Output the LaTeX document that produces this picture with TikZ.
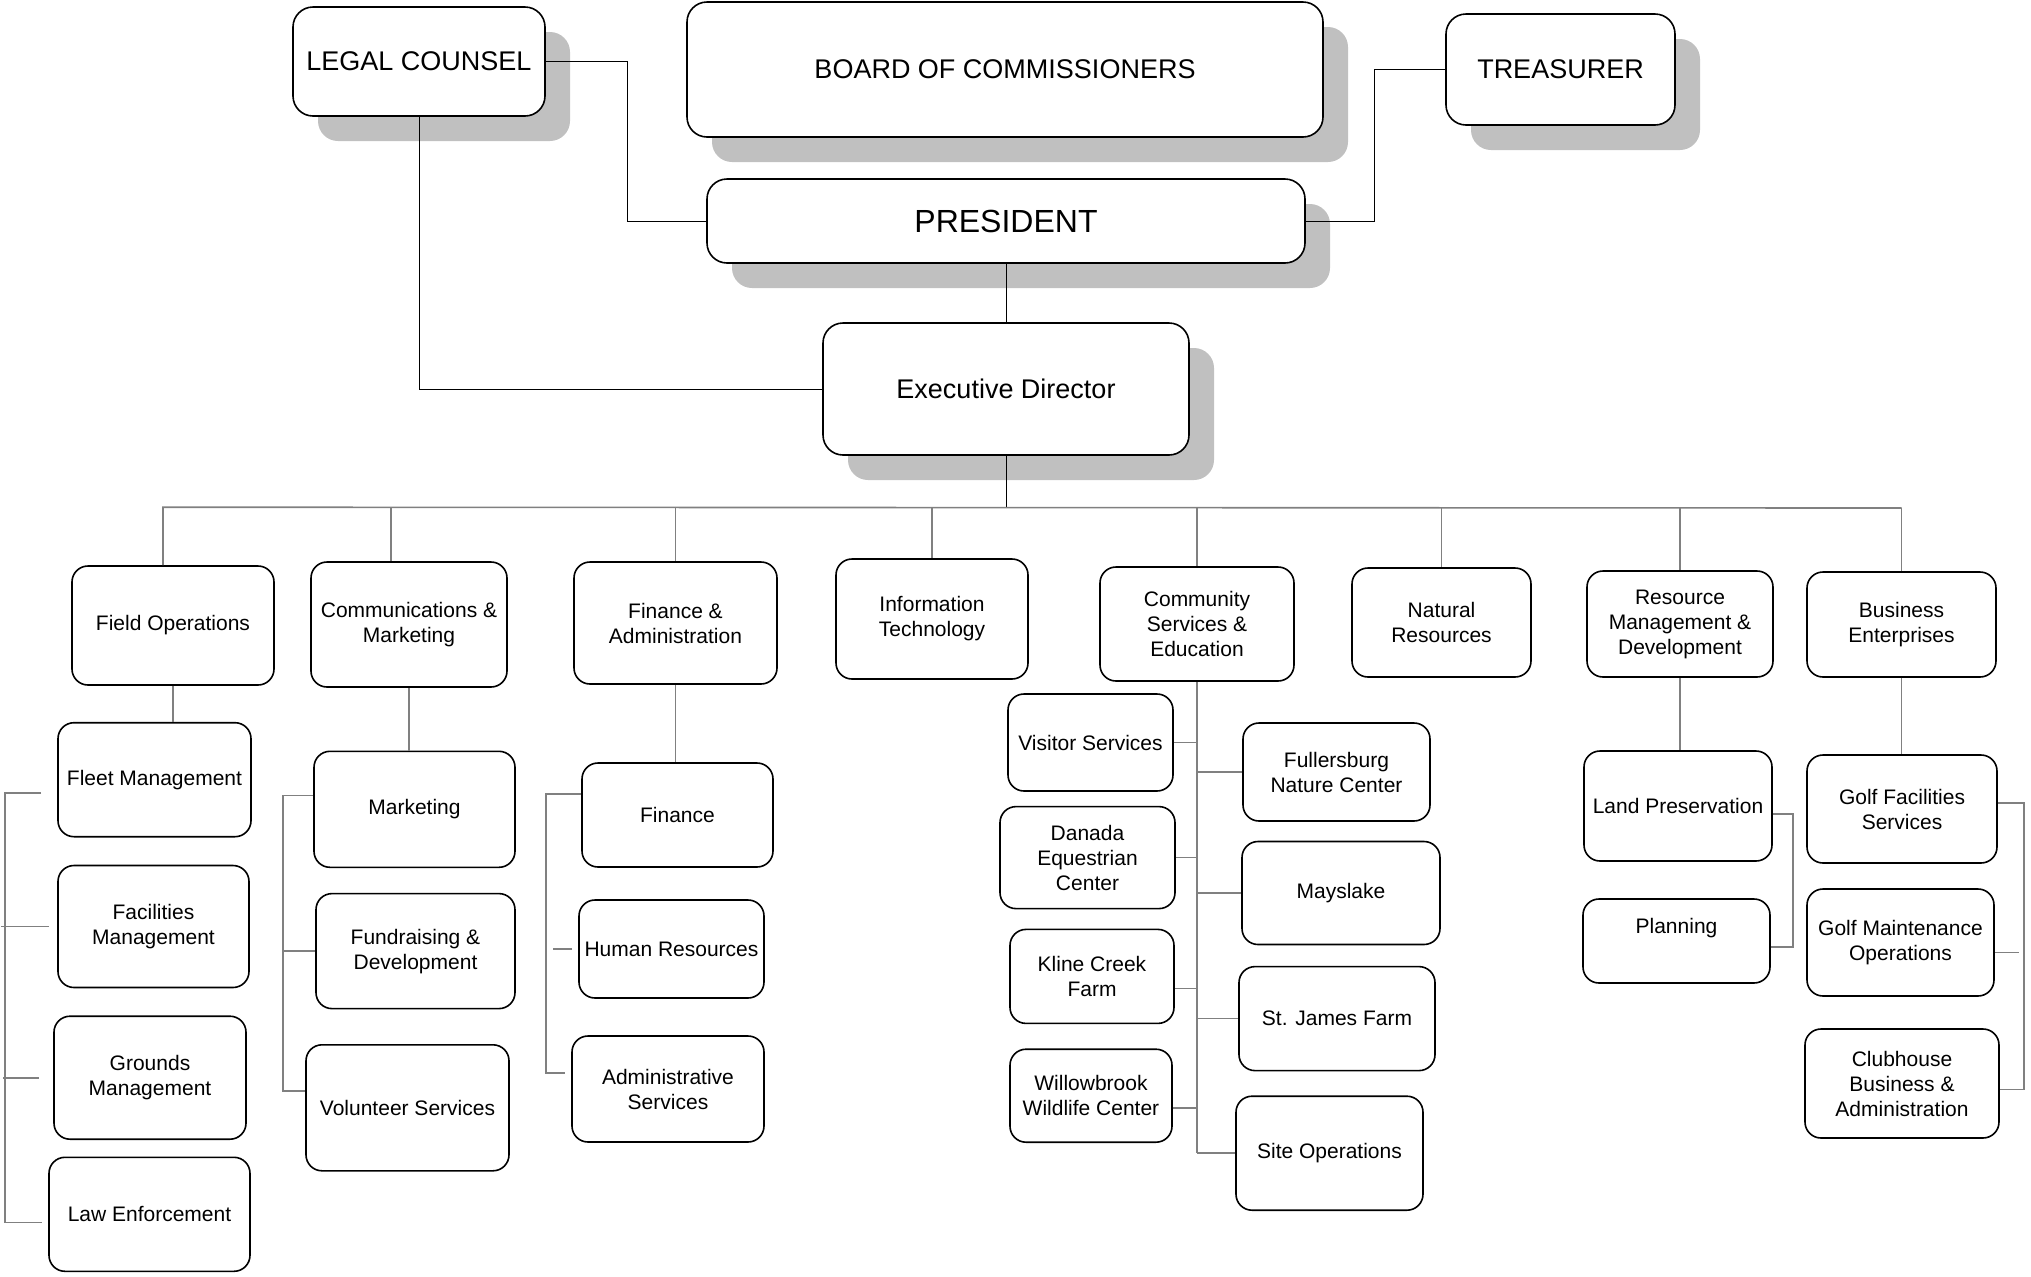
\documentclass[tikz,border=0pt]{standalone}
\usepackage{fontspec}
\setmainfont{Liberation Sans}
\usetikzlibrary{shadows}
\definecolor{shade}{HTML}{C0C0C0}
\definecolor{wire}{HTML}{808080}
\tikzset{
  top/.style={draw, line width=0.8pt, rounded corners=10pt, fill=white,
    align=center, inner sep=2pt, font=\fontsize{13.5}{16}\selectfont,
    drop shadow={shadow xshift=12.5pt, shadow yshift=-12.5pt, fill=shade, opacity=1}},
  unit/.style={draw, line width=0.8pt, rounded corners=8pt, fill=white,
    align=center, inner sep=2pt, font=\fontsize{10.5}{12.5}\selectfont},
  dims/.style 2 args={minimum width=#1pt, minimum height=#2pt},
  tie/.style={draw=black, line width=0.5pt},
  link/.style={draw=wire, line width=0.8pt}
}
\begin{document}
\begin{tikzpicture}[x=0.5pt, y=-0.5pt]
      \useasboundingbox (0,0) rectangle (2031,1276);
      % board, officers and director
      \draw
        (419,61.5) node[top, dims={126}{54.5}] (legal) {LEGAL COUNSEL}
        (1005,69.5) node[top, dims={318}{67.5}] (board) {BOARD OF COMMISSIONERS}
        (1560.5,69.5) node[top, dims={114.5}{55.5}] (treas) {TREASURER}
        (1006,221) node[top, dims={299}{42}, font=\fontsize{16}{19}\selectfont] (pres) {PRESIDENT}
        (1006,389) node[top, dims={183}{66}] (exec) {Executive Director};
      % divisions
      \draw
        (173,625.5) node[unit, dims={101}{59.5}] (fieldops) {Field Operations}
        (409,624.5) node[unit, dims={98}{62.5}] (comm) {Communications \&\\Marketing}
        (675.5,623) node[unit, dims={101.5}{61}] (finadm) {Finance \&\\Administration}
        (932,619) node[unit, dims={96}{60}] (infotech) {Information\\Technology}
        (1197,624) node[unit, dims={97}{57}] (commserv) {Community\\Services \&\\Education}
        (1441.5,622.5) node[unit, dims={89.5}{54.5}] (natres) {Natural\\Resources}
        (1680,624) node[unit, dims={93}{53}] (resmgmt) {Resource\\Management \&\\Development}
        (1901.5,624.5) node[unit, dims={94.5}{52.5}] (busent) {Business\\Enterprises};
      % departments
      \draw
        (154.5,779.7) node[unit, dims={96.5}{57}] (fleet) {Fleet Management}
        (153.5,926.5) node[unit, dims={95.5}{61}] (facil) {Facilities\\Management}
        (150,1077.7) node[unit, dims={96}{61.5}] (grounds) {Grounds\\Management}
        (149.5,1214.3) node[unit, dims={100.5}{57}] (lawenf) {Law Enforcement}
        (414.5,809.3) node[unit, dims={100.5}{58}] (mkt) {Marketing}
        (415.5,951.1) node[unit, dims={99.5}{57.5}] (fund) {Fundraising \&\\Development}
        (407.5,1107.8) node[unit, dims={101.5}{63}] (volun) {Volunteer Services}
        (677.5,815) node[unit, dims={95.5}{52}] (fin) {Finance}
        (671.5,949) node[unit, dims={92.5}{49}] (hr) {Human Resources}
        (668,1089) node[unit, dims={96}{53}] (admsvc) {Administrative\\Services}
        (1090.5,742.5) node[unit, dims={82.5}{48.5}] (visitor) {Visitor Services}
        (1336.5,772) node[unit, dims={93.5}{49}] (fuller) {Fullersburg\\Nature Center}
        (1087.5,857.6) node[unit, dims={87.5}{51}] (danada) {Danada\\Equestrian\\Center}
        (1341,893) node[unit, dims={99}{51.5}] (mays) {Mayslake}
        (1092,976.4) node[unit, dims={82}{47}] (kline) {Kline Creek\\Farm}
        (1337,1018.6) node[unit, dims={98}{52}] (stjames) {St. James Farm}
        (1091,1095.7) node[unit, dims={81}{46.5}] (willow) {Willowbrook\\Wildlife Center}
        (1329.5,1153.2) node[unit, dims={93.5}{57}] (siteops) {Site Operations}
        (1678,806) node[unit, dims={94}{55}] (landp) {Land Preservation}
        (1676.5,941) node[unit, dims={93.5}{42}] (plan) {\raisebox{6.5pt}[\height][\depth]{Planning}}
        (1902,809) node[unit, dims={95}{54}] (golffac) {Golf Facilities\\Services}
        (1900.5,942.5) node[unit, dims={93.5}{53.5}] (golfmnt) {Golf Maintenance\\Operations}
        (1902,1083.5) node[unit, dims={97}{54.5}] (club) {Clubhouse\\Business \&\\Administration};
      \coordinate (bus) at (0,508);
      \begin{scope}[tie]
        \draw (legal.east) -- ++(82,0) |- (pres.west);
        \draw (treas.west) -- ++(-71,0) |- (pres.east);
        \draw (pres.south) -- (exec.north);
        \draw (legal.south) |- (exec.west);
        \draw (exec.south) -- (exec.south |- bus);
      \end{scope}
      \begin{scope}[link]
        \draw ([xshift=-5pt]fieldops.north) -- ++(0,-58) -- (busent.north |- bus);
        \draw ([xshift=-9pt]comm.north) -- ++(0,-54);
        \draw (finadm.north |- bus) -- (finadm.north);
        \draw (infotech.north |- bus) -- (infotech.north);
        \draw (commserv.north |- bus) -- (commserv.north);
        \draw (natres.north |- bus) -- (natres.north);
        \draw (resmgmt.north |- bus) -- (resmgmt.north);
        \draw (busent.north |- bus) -- (busent.north);
        % field operations
        \draw (fieldops.south) -- (fieldops.south |- fleet.north);
        \draw ([xshift=-8pt,yshift=-6.5pt]fleet.west) -- ++(-36,0) |- ([xshift=-3pt,yshift=-4pt]lawenf.west);
        \draw ([xshift=-4pt]facil.west) -- ++(-48,0);
        \draw ([xshift=-7pt]grounds.west) -- ++(-36,0);
        % communications
        \draw (comm.south) -- (comm.south |- mkt.north);
        \draw ([yshift=7pt]mkt.west) -- ++(-30,0) |- ([yshift=8.5pt]volun.west);
        \draw (fund.west) -- ++(-32,0);
        % finance
        \draw (finadm.south) -- (finadm.south |- fin.north);
        \draw ([yshift=10.5pt]fin.west) -- ++(-35,0) |- ([xshift=-3pt,yshift=8pt]admsvc.west);
        \draw ([xshift=-3pt]hr.west) -- ++(-19,0);
        % community services
        \draw (commserv.south) -- (commserv.south |- siteops.west);
        \draw (visitor.east) -- (visitor.east -| commserv.south);
        \draw (danada.east) -- (danada.east -| commserv.south);
        \draw ([yshift=-6pt]kline.east) -- ++(23,0);
        \draw ([yshift=-6pt]willow.east) -- ++(25,0);
        \draw (commserv.south |- fuller.west) -- (fuller.west);
        \draw (commserv.south |- mays.west) -- (mays.west);
        \draw (commserv.south |- stjames.west) -- (stjames.west);
        \draw (commserv.south |- siteops.west) -- (siteops.west);
        % resource management
        \draw (resmgmt.south) -- (resmgmt.south |- landp.north);
        \draw ([yshift=-4pt]landp.east) -- ++(20,0) |- ([yshift=-3pt]plan.east);
        % business enterprises
        \draw (busent.south) -- (busent.south |- golffac.north);
        \draw ([yshift=3pt]golffac.east) -- ++(26,0) |- ([yshift=-3pt]club.east);
        \draw ([yshift=-5pt]golfmnt.east) -- ++(24,0);
      \end{scope}
    \end{tikzpicture}
\end{document}
